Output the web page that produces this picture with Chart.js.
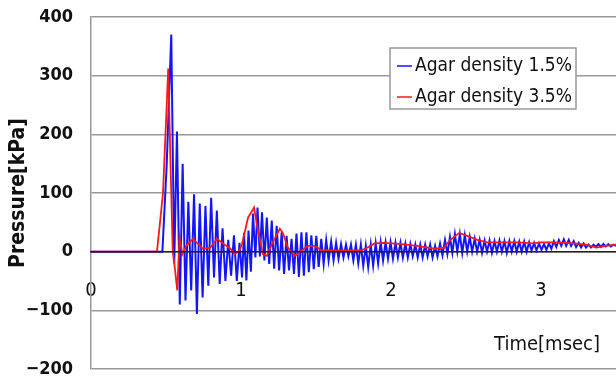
<!DOCTYPE html>
<html>
<head>
<meta charset="utf-8">
<script src="https://cdn.jsdelivr.net/npm/chart.js@4.4.1/dist/chart.umd.min.js"></script>
<style>
  html, body { margin: 0; padding: 0; background: #fff; }
  #wrap { width: 616px; height: 381px; }
</style>
</head>
<body>
<div id="wrap"><canvas id="pressureChart" width="616" height="381"></canvas></div>
<script>
// time in msec, pressure in kPa
const seriesLabels = ['Agar density 1.5%', 'Agar density 3.5%'];
const xTicks = [0, 1, 2, 3];
const yTicks = [-200, -100, 0, 100, 200, 300, 400];

const blueTime = [
  0, 0.476, 0.505, 0.535, 0.555, 0.573, 0.592, 0.611, 0.630, 0.649,
  0.668, 0.687, 0.706, 0.725, 0.744, 0.763, 0.782, 0.801, 0.820, 0.839,
  0.858, 0.877, 0.896, 0.915, 0.934, 0.953, 0.972, 0.990, 1.007, 1.020,
  1.036, 1.050, 1.066, 1.080, 1.096, 1.110, 1.126, 1.140, 1.156, 1.172,
  1.188, 1.205, 1.221, 1.238, 1.254, 1.271, 1.287, 1.304, 1.320, 1.337,
  1.353, 1.370, 1.386, 1.403, 1.419, 1.436, 1.452, 1.469, 1.485, 1.502,
  1.518, 1.535, 1.551, 1.568, 1.584, 1.601, 1.617, 1.634, 1.650, 1.667,
  1.683, 1.700, 1.716, 1.733, 1.749, 1.766, 1.782, 1.799, 1.815, 1.832,
  1.848, 1.865, 1.881, 1.898, 1.914, 1.931, 1.947, 1.964, 1.980, 1.997,
  2.013, 2.030, 2.046, 2.063, 2.079, 2.096, 2.112, 2.129, 2.145, 2.162,
  2.178, 2.195, 2.211, 2.228, 2.244, 2.261, 2.277, 2.294, 2.310, 2.327,
  2.343, 2.360, 2.376, 2.393, 2.409, 2.426, 2.442, 2.459, 2.475, 2.492,
  2.508, 2.525, 2.541, 2.558, 2.574, 2.591, 2.607, 2.624, 2.640, 2.657,
  2.673, 2.690, 2.706, 2.723, 2.739, 2.756, 2.772, 2.789, 2.805, 2.822,
  2.838, 2.855, 2.871, 2.888, 2.904, 2.921, 2.937, 2.954, 2.970, 2.987,
  3.003, 3.020, 3.036, 3.053, 3.069, 3.086, 3.102, 3.119, 3.135, 3.152,
  3.168, 3.185, 3.201, 3.218, 3.234, 3.251, 3.267, 3.284, 3.300, 3.317,
  3.333, 3.350, 3.366, 3.383, 3.399, 3.416, 3.432, 3.449, 3.465, 3.482,
  3.500
];
const bluePressure = [
  0, 0, 150, 370, -20, 205, -90, 150, -83, 85,
  -66, 98, -106, 82, -78, 78, -58, 92, -44, 70,
  -55, 40, -50, 20, -41, 28, -50, 15, -44, 32,
  -49, 36, -34, 65, -10, 75, -8, 67, -15, 58,
  -21, 53, -29, 44, -32, 33, -38, 27, -32, 22,
  -38, 31, -43, 33, -41, 33, -35, 28, -30, 27,
  -26, 22, -21, 20, -15, 17, -15, 15, -12, 13,
  -10, 12, -8, 12, -15, 12, -20, 12, -24, 10,
  -26, 12, -24, 14, -20, 16, -15, 16, -12, 16,
  -12, 15, -10, 15, -10, 14, -10, 13, -8, 12,
  -10, 12, -10, 12, -8, 12, -10, 10, -8, 14,
  -6, 20, -4, 25, -2, 30, 0, 30, -2, 28,
  0, 25, 0, 22, 0, 20, -2, 19, 0, 19,
  -2, 18, 0, 19, 0, 18, -2, 18, 0, 18,
  0, 17, 0, 17, 0, 16, 2, 15, 2, 14,
  3, 13, 3, 14, 5, 18, 8, 20, 10, 21,
  10, 20, 10, 18, 8, 15, 7, 14, 7, 12,
  7, 12, 8, 13, 8, 13, 9, 13, 9, 12,
  10
];

const redTime = [
  0, 0.44, 0.48, 0.515, 0.53, 0.545, 0.56, 0.575, 0.59, 0.61,
  0.635, 0.68, 0.71, 0.745, 0.795, 0.84, 0.88, 0.93, 0.96, 0.99,
  1.007, 1.047, 1.087, 1.113, 1.146, 1.173, 1.206, 1.259, 1.279, 1.312,
  1.359, 1.405, 1.445, 1.492, 1.538, 1.605, 1.80, 1.844, 1.89, 1.957,
  2.07, 2.176, 2.29, 2.355, 2.39, 2.455, 2.508, 2.575, 2.64, 2.736,
  2.84, 2.95, 3.0, 3.1, 3.22, 3.3, 3.37, 3.43, 3.5
];
const redPressure = [
  0, 0, 100, 312, 150, 0, -30, -66, 24, -4,
  10, 22, 14, 5, 7, 22, 14, 5, -4, 2,
  13, 58, 75, 36, -4, -7, 13, 39, 32, 7,
  -7, 2, 10, 10, 2, 2, 2, 7, 14, 15,
  13, 10, 5, 7, 19, 32, 27, 20, 16, 16,
  16, 14, 16, 16, 14, 12, 7, 10, 12
];

const FONT = "'Liberation Sans Narrow', 'DejaVu Sans Condensed', 'Liberation Sans', sans-serif";

function toPoints(xs, ys) {
  return xs.map((x, i) => ({ x: x, y: ys[i] }));
}

// legend box drawn inside the plot, and the x axis title at lower right
const extras = {
  id: 'extras',
  afterDraw(chart) {
    const ctx = chart.ctx;
    const area = chart.chartArea;
    ctx.save();
    ctx.font = '19px ' + FONT;
    ctx.textBaseline = 'middle';

    const left = area.right - 226, top = area.top + 31;
    const w = 186, h = 61;
    ctx.fillStyle = '#fff';
    ctx.fillRect(left, top, w, h);
    ctx.strokeStyle = '#999';
    ctx.lineWidth = 1.5;
    ctx.strokeRect(left, top, w, h);

    chart.data.datasets.forEach((ds, i) => {
      const y = top + 18 + i * 31;
      ctx.strokeStyle = ds.borderColor;
      ctx.lineWidth = 1.5;
      ctx.beginPath();
      ctx.moveTo(left + 7, y);
      ctx.lineTo(left + 22, y);
      ctx.stroke();
      ctx.fillStyle = '#111';
      ctx.textAlign = 'left';
      ctx.fillText(ds.label, left + 25, y);
    });

    ctx.font = '20px ' + FONT;
    ctx.textAlign = 'right';
    ctx.fillStyle = '#111';
    ctx.fillText('Time[msec]', area.right - 16, area.bottom - 24);
    ctx.restore();
  }
};

new Chart(document.getElementById('pressureChart'), {
  type: 'line',
  data: {
    datasets: [
      {
        label: seriesLabels[0],
        data: toPoints(blueTime, bluePressure),
        borderColor: '#1414ff',
        borderWidth: 2,
        pointRadius: 0,
        tension: 0,
        order: 1
      },
      {
        label: seriesLabels[1],
        data: toPoints(redTime, redPressure),
        borderColor: '#ff1818',
        borderWidth: 1.8,
        pointRadius: 0,
        tension: 0,
        order: 0
      }
    ]
  },
  options: {
    responsive: false,
    animation: false,
    layout: { padding: { top: 17, bottom: 12, left: 0, right: 0 } },
    plugins: {
      legend: { display: false },
      tooltip: { enabled: false }
    },
    scales: {
      x: {
        type: 'linear',
        position: { y: 0 },
        min: 0,
        max: 3.5,
        grid: { display: false, drawTicks: true, tickLength: 27 },
        border: { display: true, color: '#222', width: 1.5, z: 1 },
        afterBuildTicks: (scale) => { scale.ticks = xTicks.map(v => ({ value: v })); },
        ticks: {
          padding: 0,
          color: '#111',
          font: { family: FONT, size: 20 },
          callback: (v) => String(v)
        }
      },
      y: {
        min: -200,
        max: 400,
        afterFit: (scale) => { scale.width = 91; },
        afterBuildTicks: (scale) => { scale.ticks = yTicks.map(v => ({ value: v })); },
        grid: { color: '#999', lineWidth: 1.5, drawTicks: true, tickLength: 18, tickColor: 'rgba(0,0,0,0)' },
        border: { display: true, color: '#999', width: 1.5 },
        ticks: {
          padding: 0,
          color: '#111',
          font: { family: FONT, size: 18, weight: 'bold' },
          callback: (v) => String(v).replace('-', '\u2212')
        },
        title: {
          display: true,
          text: 'Pressure[kPa]',
          color: '#111',
          font: { family: FONT, size: 21, weight: 'bold' },
          padding: { top: 6, bottom: 0 }
        }
      }
    }
  },
  plugins: [extras]
});
</script>
</body>
</html>
